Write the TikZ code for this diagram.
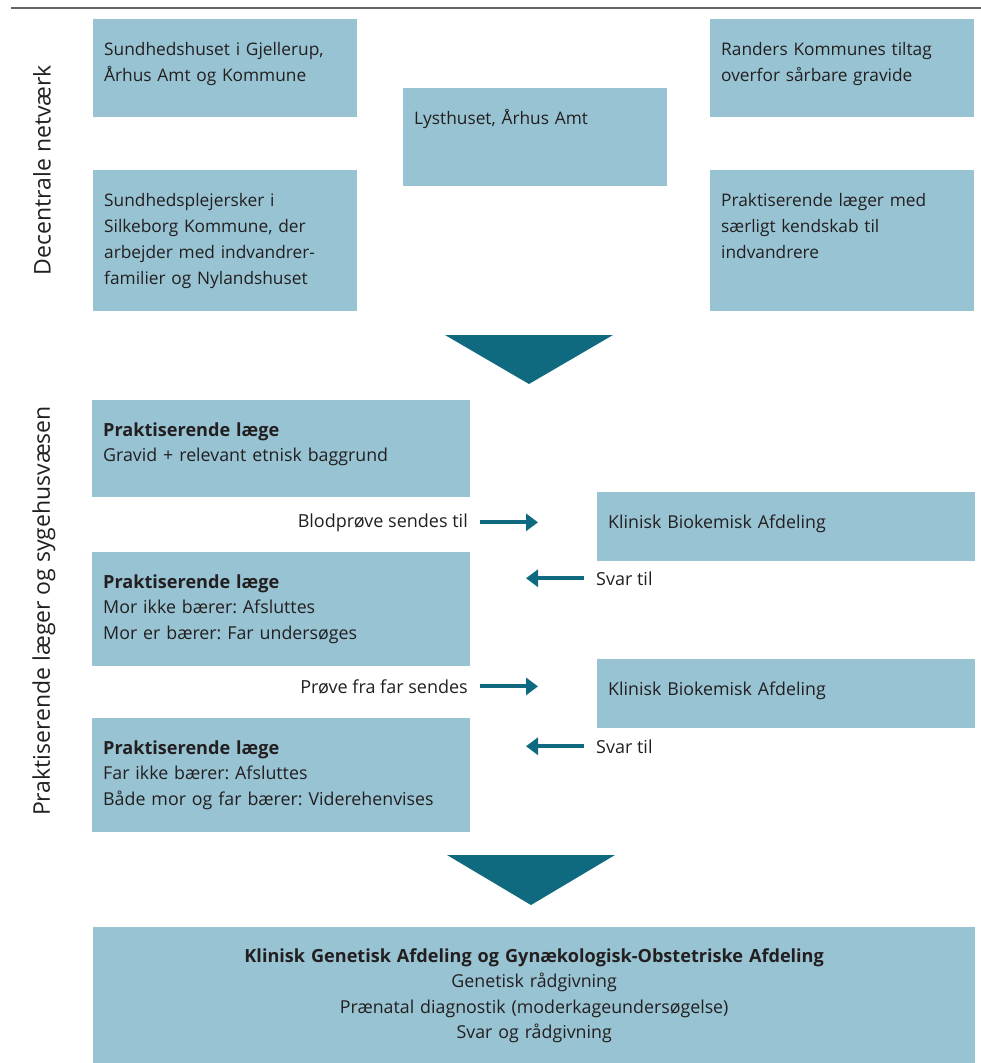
\documentclass[tikz,border=0pt]{standalone}
\usepackage{fontspec}
\setmainfont{Open Sans}
\usepackage{tikz}
\usetikzlibrary{positioning}
\usetikzlibrary{arrows.meta}
\frenchspacing

\definecolor{boksblaa}{HTML}{97C3D3}
\definecolor{petrol}{HTML}{0F6A80}
\definecolor{tekst}{HTML}{231F20}
\newcommand{\fed}[1]{{\fontsize{18.1}{25.5}\selectfont\bfseries #1}}

\begin{document}
\begin{tikzpicture}[x=1pt, y=-1pt,
  boks/.style={fill=boksblaa, anchor=north west, inner xsep=11pt, inner ysep=0pt,
    text height=36pt, align=left, text=tekst, font=\fontsize{17.3}{26}\selectfont},
  lille/.style={boks, text width=242pt},
  bred/.style={boks, text width=356pt, font=\fontsize{17.8}{25.5}\selectfont},
  pil/.style={draw=petrol, line width=4pt, -{Triangle[length=12pt,width=17pt]}},
  etiket/.style={inner sep=0pt, text=tekst, font=\fontsize{18}{20}\selectfont},
  sidetekst/.style={rotate=90, text=tekst, font=\fontsize{23}{24}\selectfont}]
  \useasboundingbox (0,0) rectangle (981,1063);
  \draw [line width=2pt, black!60] (11,8) -- (981,8);

  % decentrale netvaerk
  \node [sidetekst] (decentral) at (42,170) {Decentrale netværk};
  \node [lille, text depth=62pt] (gjellerup) at (93,19) {Sundhedshuset i Gjellerup,\\Århus Amt og Kommune};
  \node [lille, text depth=62pt] (lysthus) at (403,88) {Lysthuset, Århus Amt};
  \node [lille, text depth=62pt] (randers) at (710,19) {Randers Kommunes tiltag\\overfor sårbare gravide};
  \node [lille, text depth=105pt] (silkeborg) at (93,170) {Sundhedsplejersker i\\Silkeborg Kommune, der\\arbejder med indvandrer-\\familier og Nylandshuset};
  \node [lille, text depth=105pt] (laeger) at (710,170) {Praktiserende læger med\\særligt kendskab til\\indvandrere};

  \fill [petrol] (445,335) -- (613,335) -- (529,384) -- cycle;

  % praktiserende laeger og sygehus
  \node [sidetekst] (praksis) at (44,611) {Praktiserende læger og sygehusvæsen};
  \node [bred, text depth=61pt] (laege1) at (92,400) {\fed{Praktiserende læge}\\Gravid + relevant etnisk baggrund};
  \node [bred, text depth=78pt] (laege2) at (92,552) {\fed{Praktiserende læge}\\Mor ikke bærer: Afsluttes\\Mor er bærer: Far undersøges};
  \node [bred, text depth=78pt] (laege3) at (92,718) {\fed{Praktiserende læge}\\Far ikke bærer: Afsluttes\\Både mor og far bærer: Viderehenvises};
  \node [bred, text depth=33pt] (kba1) at (597,492) {Klinisk Biokemisk Afdeling};
  \node [bred, text depth=33pt] (kba2) at (597,659) {Klinisk Biokemisk Afdeling};

  \node [etiket, anchor=base east] (blod) at (468,527) {Blodprøve sendes til};
  \node [etiket, anchor=base west] (svar1) at (596,585) {Svar til};
  \node [etiket, anchor=base east] (far) at (468,693) {Prøve fra far sendes};
  \node [etiket, anchor=base west] (svar2) at (596,753) {Svar til};
  \coordinate [right=70pt of blod.east] (blodpil);
  \coordinate [left=70pt of svar1.west] (svarpil1);
  \coordinate [right=70pt of far.east] (farpil);
  \coordinate [left=70pt of svar2.west] (svarpil2);
  \draw [pil] ([xshift=12pt]blod.east) -- (blodpil);
  \draw [pil] ([xshift=-12pt]svar1.west) -- (svarpil1);
  \draw [pil] ([xshift=12pt]far.east) -- (farpil);
  \draw [pil] ([xshift=-12pt]svar2.west) -- (svarpil2);

  \fill [petrol] (447,855) -- (615,855) -- (531,905) -- cycle;

  \node [bred, text width=860pt, align=center, text height=35pt, text depth=101pt] (genetik) at (93,927)
    {\fed{Klinisk Genetisk Afdeling og Gynækologisk-Obstetriske Afdeling}\\Genetisk rådgivning\\Prænatal diagnostik (moderkageundersøgelse)\\Svar og rådgivning};
\end{tikzpicture}
\end{document}
